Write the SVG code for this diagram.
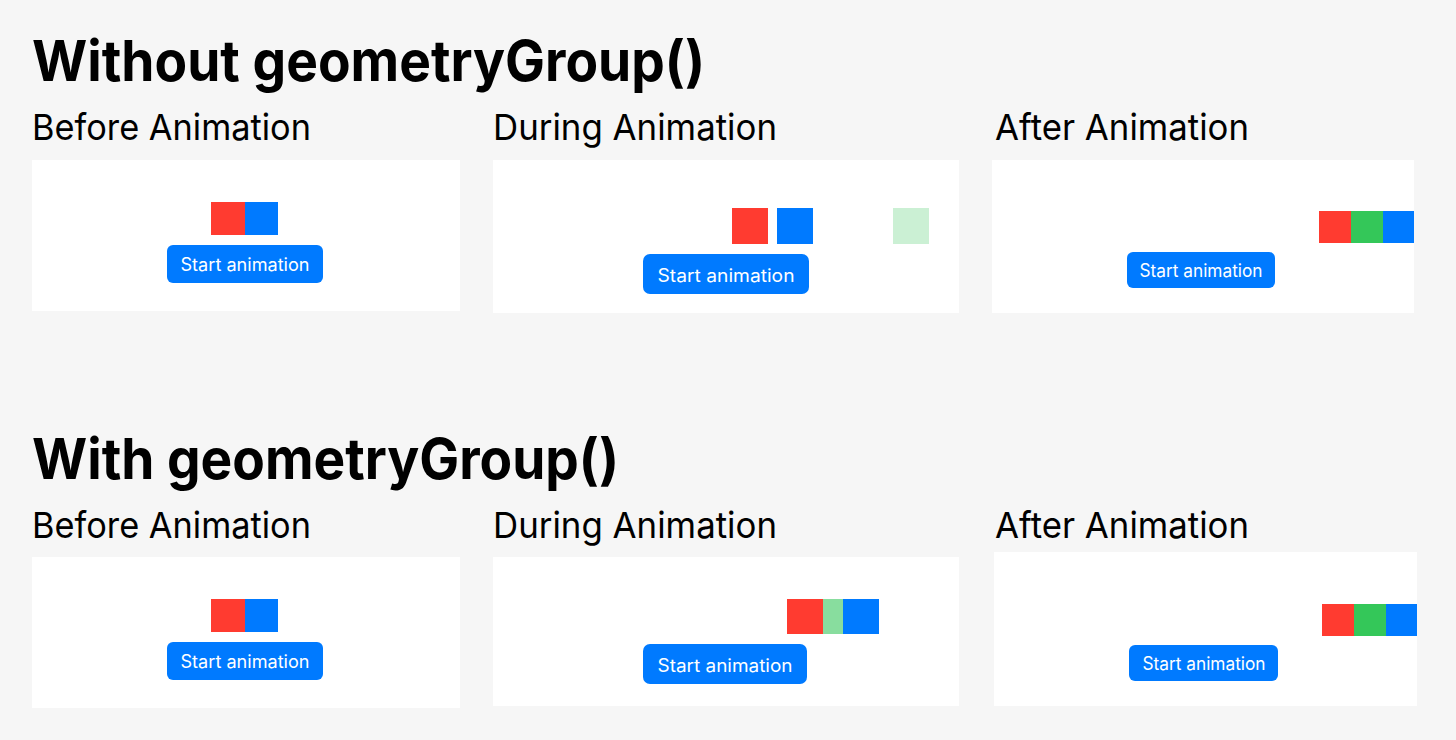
<svg xmlns="http://www.w3.org/2000/svg" width="1456" height="740" viewBox="0 0 1456 740">
  <style>
    .title { font-family: Inter, "Liberation Sans", sans-serif; font-weight: 700; font-size: 56px; fill: #000; }
    .sub { font-family: Inter, "Liberation Sans", sans-serif; font-weight: 400; font-size: 36px; fill: #000; }
    .panel { fill: #ffffff; }
    .btn { fill: #007aff; }
    .btxt { font-family: Inter, "Liberation Sans", sans-serif; font-size: 18px; fill: #ffffff; text-anchor: middle; }
    .red { fill: #ff3b30; }
    .blue { fill: #007aff; }
    .green { fill: #34c759; }
  </style>
  <rect x="0" y="0" width="1456" height="740" fill="#f6f6f6"/>

  <g id="heading-without">
    <text class="title" x="32" y="81" textLength="673" lengthAdjust="spacingAndGlyphs">Without geometryGroup()</text>
  </g>
  <g id="heading-with">
    <text class="title" x="32" y="479" textLength="587" lengthAdjust="spacingAndGlyphs">With geometryGroup()</text>
  </g>

  <!-- Top row -->
  <g id="top-before">
    <text class="sub" x="32" y="140" textLength="279" lengthAdjust="spacingAndGlyphs">Before Animation</text>
    <rect class="panel" x="32" y="160" width="428" height="151"/>
    <rect class="red" x="211" y="202" width="34" height="33"/>
    <rect class="blue" x="245" y="202" width="33" height="33"/>
    <rect class="btn" x="167" y="245" width="156" height="38" rx="6"/>
    <text class="btxt" x="245" y="271" textLength="129" lengthAdjust="spacingAndGlyphs">Start animation</text>
  </g>

  <g id="top-during">
    <text class="sub" x="493" y="140" textLength="284" lengthAdjust="spacingAndGlyphs">During Animation</text>
    <rect class="panel" x="493" y="160" width="466" height="153"/>
    <rect class="red" x="732" y="208" width="36" height="36"/>
    <rect class="blue" x="777" y="208" width="36" height="36"/>
    <rect fill="#cbf0d4" x="893" y="208" width="36" height="36"/>
    <rect class="btn" x="643" y="254" width="166" height="40" rx="7"/>
    <text class="btxt" x="726" y="281.5" font-size="19.5" textLength="137" lengthAdjust="spacingAndGlyphs">Start animation</text>
  </g>

  <g id="top-after">
    <text class="sub" x="995" y="140" textLength="254" lengthAdjust="spacingAndGlyphs">After Animation</text>
    <rect class="panel" x="992" y="160" width="422" height="153"/>
    <rect class="red" x="1319" y="211" width="32" height="32"/>
    <rect class="green" x="1351" y="211" width="32" height="32"/>
    <rect class="blue" x="1383" y="211" width="31" height="32"/>
    <rect class="btn" x="1127" y="252" width="148" height="36" rx="6"/>
    <text class="btxt" x="1201" y="276.5" font-size="17" textLength="123" lengthAdjust="spacingAndGlyphs">Start animation</text>
  </g>

  <!-- Bottom row -->
  <g id="bottom-before">
    <text class="sub" x="32" y="538" textLength="279" lengthAdjust="spacingAndGlyphs">Before Animation</text>
    <rect class="panel" x="32" y="557" width="428" height="151"/>
    <rect class="red" x="211" y="599" width="34" height="33"/>
    <rect class="blue" x="245" y="599" width="33" height="33"/>
    <rect class="btn" x="167" y="642" width="156" height="38" rx="6"/>
    <text class="btxt" x="245" y="668" textLength="129" lengthAdjust="spacingAndGlyphs">Start animation</text>
  </g>

  <g id="bottom-during">
    <text class="sub" x="493" y="538" textLength="284" lengthAdjust="spacingAndGlyphs">During Animation</text>
    <rect class="panel" x="493" y="557" width="466" height="149"/>
    <rect class="red" x="787" y="599" width="36" height="35"/>
    <rect fill="#88dd9e" x="823" y="599" width="20" height="35"/>
    <rect class="blue" x="843" y="599" width="36" height="35"/>
    <rect class="btn" x="643" y="644" width="164" height="40" rx="7"/>
    <text class="btxt" x="725" y="671.5" font-size="19.5" textLength="135" lengthAdjust="spacingAndGlyphs">Start animation</text>
  </g>

  <g id="bottom-after">
    <text class="sub" x="995" y="538" textLength="254" lengthAdjust="spacingAndGlyphs">After Animation</text>
    <rect class="panel" x="994" y="552" width="423" height="154"/>
    <rect class="red" x="1322" y="604" width="32" height="32"/>
    <rect class="green" x="1354" y="604" width="32" height="32"/>
    <rect class="blue" x="1386" y="604" width="31" height="32"/>
    <rect class="btn" x="1129" y="645" width="149" height="36" rx="6"/>
    <text class="btxt" x="1204" y="670" font-size="17" textLength="123" lengthAdjust="spacingAndGlyphs">Start animation</text>
  </g>
</svg>
